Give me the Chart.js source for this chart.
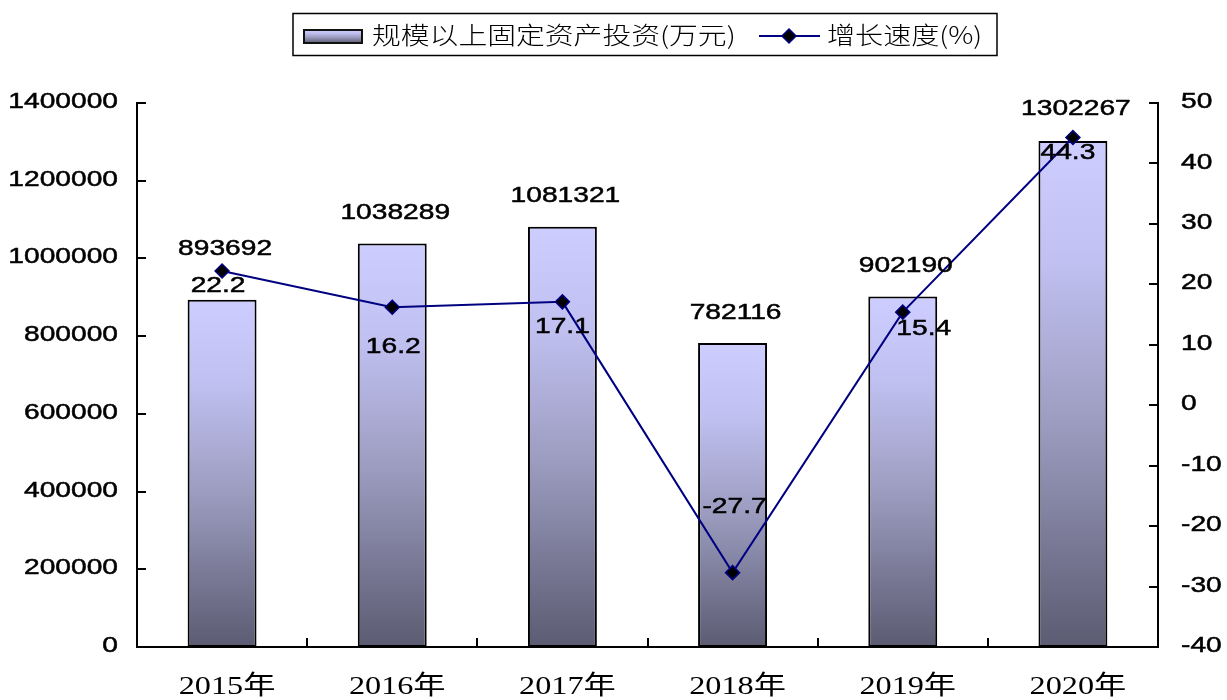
<!DOCTYPE html>
<html>
<head>
<meta charset="utf-8">
<script src="https://cdn.jsdelivr.net/npm/chart.js@4/dist/chart.umd.min.js"></script>
<style>
  html, body { margin: 0; padding: 0; background: #fff; }
  #wrap { width: 1227px; height: 700px; }
</style>
</head>
<body>
<div id="wrap"><canvas id="chart" width="1227" height="700"></canvas></div>
<script>
// Data
const years = ['2015年', '2016年', '2017年', '2018年', '2019年', '2020年'];
const investment = [893692, 1038289, 1081321, 782116, 902190, 1302267];
const growth = [22.2, 16.2, 17.1, -27.7, 15.4, 44.3];
const investLabel = '规模以上固定资产投资(万元)';
const growthLabel = '增长速度(%)';

// label placement (px), per year
const barLabelLift = [51, 31, 31, 30, 30, 32];
const growthLabelShift = [[-4, 15], [1, 40], [0, 25], [2, -66], [21, 17], [-5, 15]];

const SX = 1.28; // the source picture is stretched sideways
const numFont = '22px "Liberation Sans", Arial, sans-serif';
const yearFont = '26px "Liberation Serif", "Noto Sans CJK SC", serif';
const cjkFont = '300 24px "Noto Sans CJK SC", sans-serif';

function stretchText(ctx, text, x, y, font, align, sx, heavy) {
    ctx.save();
    ctx.font = font;
    const w = ctx.measureText(text).width * sx;
    let left = x;
    if (align === 'center') left = x - w / 2;
    if (align === 'right') left = x - w;
    ctx.translate(left, y);
    ctx.scale(sx, 1);
    ctx.textAlign = 'left';
    ctx.textBaseline = 'middle';
    ctx.fillStyle = '#000';
    ctx.fillText(text, 0, 0);
    if (heavy) {
        ctx.strokeStyle = '#000';
        ctx.lineWidth = heavy;
        ctx.strokeText(text, 0, 0);
    }
    ctx.restore();
}

function barGradient(ctx, top, bottom) {
    const g = ctx.createLinearGradient(0, top, 0, bottom);
    g.addColorStop(0, '#cdcdff');
    g.addColorStop(0.25, '#bfbff0');
    g.addColorStop(0.55, '#9d9dc1');
    g.addColorStop(1, '#5b5b72');
    return g;
}

function diamond(ctx, x, y, r) {
    ctx.beginPath();
    ctx.moveTo(x, y - r);
    ctx.lineTo(x + r, y);
    ctx.lineTo(x, y + r);
    ctx.lineTo(x - r, y);
    ctx.closePath();
    ctx.fillStyle = '#000';
    ctx.fill();
    ctx.strokeStyle = '#000080';
    ctx.lineWidth = 1.5;
    ctx.stroke();
}

// ticks, labels and legend drawn by hand
const decorPlugin = {
    id: 'decor',
    afterDraw(chart) {
        const ctx = chart.ctx;
        const area = chart.chartArea;
        const x = chart.scales.x, y = chart.scales.y, y1 = chart.scales.y1;

        ctx.save();
        ctx.strokeStyle = '#000';
        ctx.lineWidth = 2;
        ctx.beginPath();
        y.ticks.forEach(t => {
            const py = Math.round(y.getPixelForValue(t.value));
            ctx.moveTo(area.left, py); ctx.lineTo(area.left + 9, py);
        });
        y1.ticks.forEach(t => {
            const py = Math.round(y1.getPixelForValue(t.value));
            ctx.moveTo(area.right, py); ctx.lineTo(area.right - 9, py);
        });
        const step = (area.right - area.left) / years.length;
        for (let i = 1; i < years.length; i++) {
            const px = Math.round(area.left + step * i);
            ctx.moveTo(px, area.bottom); ctx.lineTo(px, area.bottom - 9);
        }
        ctx.stroke();
        ctx.restore();

        y.ticks.forEach(t => stretchText(ctx, String(t.value), area.left - 19, y.getPixelForValue(t.value) - 1, numFont, 'right', SX, 0.5));
        y1.ticks.forEach(t => stretchText(ctx, String(t.value), area.right + 23, y1.getPixelForValue(t.value) - 1, numFont, 'left', SX, 0.5));
        years.forEach((yr, i) => stretchText(ctx, yr, x.getPixelForValue(i) + 5, area.bottom + 40, yearFont, 'center', 1.24));

        // data labels
        investment.forEach((v, i) => {
            stretchText(ctx, String(v), x.getPixelForValue(i) + 3, y.getPixelForValue(v) - barLabelLift[i], numFont, 'center', SX, 0.5);
        });
        growth.forEach((v, i) => {
            const s = growthLabelShift[i];
            stretchText(ctx, String(v), x.getPixelForValue(i) + s[0], y1.getPixelForValue(v) + s[1], numFont, 'center', SX, 0.5);
        });

        // legend
        ctx.save();
        ctx.strokeStyle = '#000';
        ctx.lineWidth = 1.5;
        ctx.strokeRect(293, 13.5, 704, 42);
        ctx.fillStyle = barGradient(ctx, 30, 43);
        ctx.fillRect(304, 30, 58, 13);
        ctx.lineWidth = 2;
        ctx.strokeStyle = '#111';
        ctx.strokeRect(304, 30, 58, 13);
        ctx.strokeStyle = '#000080';
        ctx.lineWidth = 2;
        ctx.beginPath();
        ctx.moveTo(759, 36); ctx.lineTo(820, 36);
        ctx.stroke();
        diamond(ctx, 789, 36, 7);
        ctx.restore();
        stretchText(ctx, investLabel, 372, 35, cjkFont, 'left', 1.2);
        stretchText(ctx, growthLabel, 827, 35, cjkFont, 'left', 1.17);
    }
};

new Chart(document.getElementById('chart'), {
    data: {
        labels: years,
        datasets: [
            {
                type: 'line',
                label: growthLabel,
                data: growth,
                yAxisID: 'y1',
                order: 0,
                borderColor: '#000080',
                borderWidth: 2,
                tension: 0,
                pointStyle: 'rectRot',
                pointRadius: 7,
                pointBackgroundColor: '#000',
                pointBorderColor: '#000080',
                pointBorderWidth: 1.5
            },
            {
                type: 'bar',
                label: investLabel,
                data: investment,
                yAxisID: 'y',
                order: 1,
                barPercentage: 0.405,
                categoryPercentage: 1,
                borderColor: '#000',
                borderWidth: 2,
                borderSkipped: false,
                backgroundColor: c => {
                    const chart = c.chart;
                    if (!chart.chartArea || c.dataIndex === undefined) return '#ccccff';
                    const top = chart.scales.y.getPixelForValue(investment[c.dataIndex]);
                    return barGradient(chart.ctx, top, chart.chartArea.bottom);
                }
            }
        ]
    },
    options: {
        responsive: false,
        animation: false,
        devicePixelRatio: 1,
        layout: { padding: { top: 103, left: 0, right: 0, bottom: 0 } },
        plugins: { legend: { display: false }, tooltip: { enabled: false } },
        scales: {
            x: {
                grid: { display: false },
                border: { display: true, color: '#000', width: 2 },
                ticks: { display: false },
                afterFit: s => { s.height = 53; }
            },
            y: {
                position: 'left',
                min: 0, max: 1400000,
                ticks: { display: false, stepSize: 200000 },
                grid: { display: false },
                border: { display: true, color: '#000', width: 2 },
                afterFit: s => { s.width = 137; }
            },
            y1: {
                position: 'right',
                min: -40, max: 50,
                ticks: { display: false, stepSize: 10 },
                grid: { display: false },
                border: { display: true, color: '#000', width: 2 },
                afterFit: s => { s.width = 69; }
            }
        }
    },
    plugins: [decorPlugin]
});
</script>
</body>
</html>
